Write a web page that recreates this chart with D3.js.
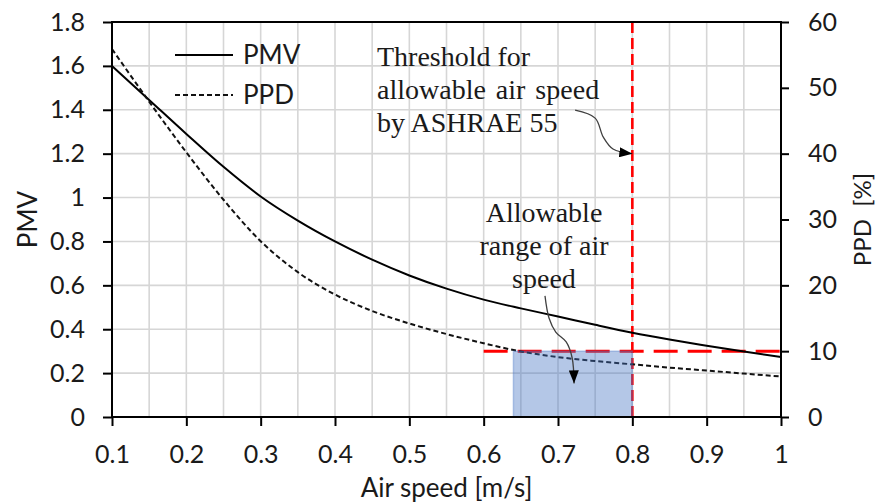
<!DOCTYPE html>
<html lang="en">
<head>
<meta charset="UTF-8">
<title>PMV / PPD vs air speed</title>
<script src="https://cdnjs.cloudflare.com/ajax/libs/d3/7.8.5/d3.min.js"></script>
<style>
  body { margin: 0; background: #fff; }
  svg { display: block; }
  .tick text { font-family: Lato, "Open Sans", sans-serif; font-size: 25px; fill: #1a1a1a; }
  .lbl { font-family: Lato, "Open Sans", sans-serif; font-size: 26px; fill: #1a1a1a; white-space: pre; }
  .note { font-family: "Liberation Serif", "Times New Roman", serif; font-size: 28px; fill: #1a1a1a; }
</style>
</head>
<body>
<svg id="chart" width="878" height="503"></svg>
<script>
// air speed [m/s]
const speed = [0.1, 0.15, 0.2, 0.25, 0.3, 0.35, 0.4, 0.45, 0.5, 0.55, 0.6, 0.65, 0.7, 0.75, 0.8, 0.85, 0.9, 0.95, 1.0];
// PMV (left axis)
const pmv = [1.60, 1.445, 1.29, 1.14, 1.005, 0.895, 0.80, 0.717, 0.645, 0.585, 0.535, 0.495, 0.458, 0.42, 0.384, 0.353, 0.325, 0.298, 0.273];
// PPD [%] (right axis)
const ppd = [55.9, 47.9, 40.2, 33.0, 26.7, 22.0, 18.6, 16.1, 14.2, 12.6, 11.2, 9.95, 9.1, 8.5, 8.0, 7.5, 7.05, 6.6, 6.15];

const xTicks = [0.1, 0.2, 0.3, 0.4, 0.5, 0.6, 0.7, 0.8, 0.9, 1.0];
const yTicks = [0, 0.2, 0.4, 0.6, 0.8, 1.0, 1.2, 1.4, 1.6, 1.8];
const ppdTicks = [0, 10, 20, 30, 40, 50, 60];

// threshold / allowable range
const speedLimit = 0.8;
const ppdLimit = 10;
const ppdLineStart = 0.6;
const allowStart = 0.64;

// annotation arrows, in data units (speed, PPD)
const arrowThreshold = [[0.723, 46.6], [0.750, 45.4], [0.761, 42.5], [0.774, 40.7], [0.800, 40.0]];
const arrowRange = [[0.6825, 18.4], [0.688, 15.0], [0.697, 12.9], [0.711, 11.4], [0.719, 9.0], [0.7216, 5.1]];

const svg = d3.select("#chart");
const x = d3.scaleLinear().domain([0.1, 1.0]).range([112, 781]);
const y = d3.scaleLinear().domain([0, 1.8]).range([417, 22]);
const yR = d3.scaleLinear().domain([0, 60]).range([417, 22]);

// grid
const grid = svg.append("g").attr("stroke", "#d6d6d6").attr("stroke-width", 1.6);
grid.selectAll(".gv").data(d3.range(3, 20).map(i => i * 0.05)).enter().append("line")
  .attr("x1", d => x(d)).attr("x2", d => x(d)).attr("y1", y(0)).attr("y2", y(1.8));
grid.selectAll(".gh").data(yTicks.slice(1, -1)).enter().append("line")
  .attr("x1", x(0.1)).attr("x2", x(1.0)).attr("y1", d => y(d)).attr("y2", d => y(d));

// red threshold lines
svg.append("line")
  .attr("x1", x(speedLimit)).attr("x2", x(speedLimit)).attr("y1", y(1.8)).attr("y2", y(0))
  .attr("stroke", "#ff0000").attr("stroke-width", 2.6).attr("stroke-dasharray", "11,5");
svg.append("line")
  .attr("x1", x(ppdLineStart)).attr("x2", x(1.0)).attr("y1", yR(ppdLimit)).attr("y2", yR(ppdLimit))
  .attr("stroke", "#ff0000").attr("stroke-width", 3).attr("stroke-dasharray", "24,10");

// curves
const linePmv = d3.line().x((d, i) => x(speed[i])).y(d => y(d)).curve(d3.curveMonotoneX);
const linePpd = d3.line().x((d, i) => x(speed[i])).y(d => yR(d)).curve(d3.curveMonotoneX);
svg.append("path").attr("d", linePmv(pmv)).attr("fill", "none").attr("stroke", "#000").attr("stroke-width", 2);
svg.append("path").attr("d", linePpd(ppd)).attr("fill", "none").attr("stroke", "#111")
  .attr("stroke-width", 2).attr("stroke-dasharray", "5,3");

// allowable region
svg.append("rect")
  .attr("x", x(allowStart)).attr("y", yR(ppdLimit))
  .attr("width", x(speedLimit) - x(allowStart)).attr("height", yR(0) - yR(ppdLimit))
  .attr("fill", "#4472c4").attr("fill-opacity", 0.4)
  .attr("stroke", "#4472c4").attr("stroke-opacity", 0.35).attr("stroke-width", 1.5);

// frame
svg.append("rect").attr("x", x(0.1)).attr("y", y(1.8))
  .attr("width", x(1.0) - x(0.1)).attr("height", y(0) - y(1.8))
  .attr("fill", "none").attr("stroke", "#000").attr("stroke-width", 2);

// axes
const fmt = d => String(+d.toFixed(1));
const ax = svg.append("g").attr("transform", `translate(0,${y(0)})`)
  .call(d3.axisBottom(x).tickValues(xTicks).tickFormat(fmt).tickSize(9).tickSizeOuter(0).tickPadding(19));
const ay = svg.append("g").attr("transform", `translate(${x(0.1)},0)`)
  .call(d3.axisLeft(y).tickValues(yTicks).tickFormat(fmt).tickSize(9).tickSizeOuter(0).tickPadding(18));
const ar = svg.append("g").attr("transform", `translate(${x(1.0)},0)`)
  .call(d3.axisRight(yR).tickValues(ppdTicks).tickSize(8).tickSizeOuter(0).tickPadding(19));
[ax, ay, ar].forEach(g => {
  g.select(".domain").remove();
  g.selectAll(".tick line").attr("stroke", "#000").attr("stroke-width", 2);
});

// axis titles
svg.append("text").attr("class", "lbl").attr("text-anchor", "middle")
  .attr("x", (x(0.1) + x(1.0)) / 2).attr("y", 497).text("Air speed [m/s]");
svg.append("text").attr("class", "lbl").attr("text-anchor", "middle")
  .attr("transform", `translate(37,${(y(0) + y(1.8)) / 2}) rotate(-90)`).text("PMV");
svg.append("text").attr("class", "lbl").attr("text-anchor", "middle")
  .style("font-size", "24px")
  .attr("transform", `translate(871,${(y(0) + y(1.8)) / 2}) rotate(-90)`).text("PPD  [%]");

// legend
const lg = svg.append("g");
lg.append("line").attr("x1", 175).attr("x2", 233).attr("y1", 55).attr("y2", 55)
  .attr("stroke", "#000").attr("stroke-width", 2);
lg.append("text").attr("class", "lbl").attr("x", 243).attr("y", 64).text("PMV");
lg.append("line").attr("x1", 175).attr("x2", 233).attr("y1", 95).attr("y2", 95)
  .attr("stroke", "#111").attr("stroke-width", 2).attr("stroke-dasharray", "5,3");
lg.append("text").attr("class", "lbl").attr("x", 243).attr("y", 104).text("PPD");

// annotations
svg.append("defs").append("marker")
  .attr("id", "head").attr("viewBox", "0 0 13 10").attr("refX", 13).attr("refY", 5)
  .attr("markerWidth", 13).attr("markerHeight", 10).attr("markerUnits", "userSpaceOnUse")
  .attr("orient", "auto")
  .append("path").attr("d", "M0,0 L13,5 L0,10 Z").attr("fill", "#000");

const arrowLine = d3.line().x(d => x(d[0])).y(d => yR(d[1])).curve(d3.curveCatmullRom);
[arrowThreshold, arrowRange].forEach(pts => {
  svg.append("path").attr("d", arrowLine(pts)).attr("fill", "none")
    .attr("stroke", "#404040").attr("stroke-width", 1.3).attr("marker-end", "url(#head)");
});

const note1 = ["Threshold for", "allowable air speed", "by ASHRAE 55"];
svg.append("g").selectAll("text").data(note1).enter().append("text")
  .attr("class", "note").attr("x", 377).attr("y", (d, i) => 66 + i * 33)
  .attr("word-spacing", (d, i) => i === 1 ? 3 : 0).text(d => d);

const note2 = ["Allowable", "range of air", "speed"];
svg.append("g").selectAll("text").data(note2).enter().append("text")
  .attr("class", "note").attr("text-anchor", "middle").attr("x", 544)
  .attr("y", (d, i) => 222 + i * 33).text(d => d);
</script>
</body>
</html>
